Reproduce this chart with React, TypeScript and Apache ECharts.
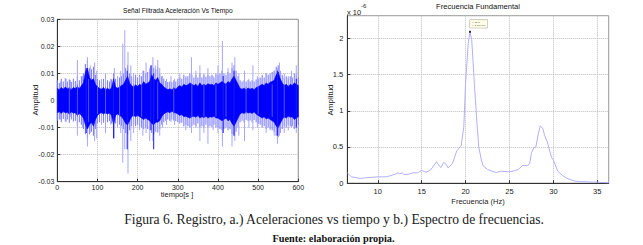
import React, { useEffect, useRef } from 'react';
import * as echarts from 'echarts';

// ---------- Left panel: filtered acceleration (values in 1e-3 units) ----------
const TIME_STEP_S = 5; // samples every 5 s, 0..600
const coreHi = [
  4.5, 4.0, 4.8, 4.2, 5.0, 4.3, 4.6, 4.0, 4.8, 4.4,
  5.2, 4.3, 5.5, 6.5, 10.5, 12.0, 8.5, 7.5, 8.0, 6.0,
  5.0, 4.5, 4.2, 4.8, 4.0, 4.5, 4.0, 4.6, 8.0, 5.0,
  4.5, 5.0, 5.5, 6.0, 7.5, 9.0, 6.5, 5.5, 5.0, 5.8,
  5.2, 6.0, 5.5, 7.0, 6.0, 6.5, 7.0, 9.5, 8.0, 7.5,
  8.5, 6.5, 6.0, 5.0, 4.5, 4.0, 4.3, 4.0, 4.6, 4.2,
  5.0, 5.5, 5.0, 6.0, 5.5, 5.8, 6.5, 6.0, 5.5, 6.0,
  5.2, 6.5, 5.5, 6.0, 5.5, 6.2, 5.8, 6.0, 5.5, 6.5,
  6.0, 6.5, 7.0, 6.5, 6.0, 7.0, 6.5, 8.0, 9.0, 7.5,
  6.0, 4.5, 4.2, 4.5, 4.0, 4.6, 4.2, 4.5, 4.0, 4.8,
  5.0, 5.5, 6.0, 5.5, 6.5, 6.0, 6.8, 7.0, 7.5, 9.5,
  10.5, 8.0, 6.5, 5.5, 6.0, 5.2, 6.0, 5.5, 6.5, 6.0,
  5.5,
];
const coreLo = [
  -4.5, -4.2, -4.8, -4.0, -4.6, -4.3, -5.0, -4.2, -4.7, -4.5,
  -5.5, -4.8, -5.5, -6.5, -9.0, -10.5, -9.0, -8.0, -9.5, -7.0,
  -5.5, -4.8, -4.5, -5.0, -4.5, -5.0, -4.6, -5.5, -9.0, -5.5,
  -5.0, -5.5, -6.0, -7.0, -8.5, -9.0, -7.5, -6.0, -5.5, -6.0,
  -5.5, -6.0, -6.5, -7.0, -6.5, -7.0, -7.5, -8.5, -9.0, -8.0,
  -8.0, -7.5, -6.0, -5.0, -4.5, -4.2, -4.5, -4.0, -4.4, -4.6,
  -5.0, -5.5, -5.2, -6.0, -5.8, -6.2, -6.5, -6.0, -5.8, -6.2,
  -5.5, -6.5, -6.0, -6.3, -5.8, -6.5, -6.0, -6.2, -5.8, -6.5,
  -6.5, -7.0, -7.5, -7.0, -6.5, -7.5, -7.0, -8.5, -9.5, -8.0,
  -6.5, -5.0, -4.5, -4.8, -4.2, -4.6, -4.4, -4.8, -4.2, -5.0,
  -5.5, -6.0, -6.5, -6.0, -6.8, -6.5, -7.0, -7.5, -8.0, -9.5,
  -10.0, -8.5, -7.0, -6.0, -6.5, -5.8, -6.2, -6.0, -7.0, -6.5,
  -6.0,
];
const haloHi = [
  7.5, 6.5, 8.0, 7.0, 8.2, 7.0, 7.8, 6.8, 8.0, 7.2,
  9.0, 7.5, 9.0, 10.0, 13.5, 15.0, 12.0, 11.5, 12.5, 9.5,
  8.0, 7.5, 7.0, 8.0, 7.0, 7.5, 7.0, 7.8, 10.0, 8.0,
  7.5, 8.5, 9.0, 10.0, 12.0, 13.0, 10.0, 9.0, 8.0, 9.5,
  8.5, 9.5, 9.0, 11.0, 10.0, 10.5, 11.0, 13.0, 12.0, 11.5,
  12.5, 10.0, 9.0, 8.0, 7.2, 6.8, 7.0, 6.8, 7.5, 7.0,
  8.0, 8.5, 8.0, 9.5, 8.5, 9.0, 10.0, 9.5, 8.5, 9.5,
  8.5, 10.0, 8.5, 9.5, 8.8, 9.5, 9.0, 9.5, 8.5, 10.0,
  9.5, 10.0, 11.0, 10.0, 9.5, 10.5, 10.0, 12.0, 13.0, 11.0,
  9.0, 7.5, 7.0, 7.5, 7.0, 7.6, 7.0, 7.5, 7.0, 7.8,
  8.0, 8.5, 9.5, 8.5, 10.0, 9.5, 10.0, 10.5, 11.0, 12.5,
  13.0, 11.0, 9.5, 8.5, 9.0, 8.2, 9.0, 8.5, 10.0, 9.5,
  8.5,
];
const haloLo = [
  -7.5, -7.0, -8.0, -6.8, -7.8, -7.0, -8.2, -7.0, -7.8, -7.5,
  -9.0, -8.0, -9.0, -10.5, -12.5, -14.0, -12.5, -11.5, -13.0, -10.5,
  -8.5, -8.0, -7.5, -8.2, -7.5, -8.0, -7.6, -8.5, -12.0, -8.5,
  -8.0, -9.0, -9.5, -10.5, -12.0, -12.5, -11.0, -9.5, -9.0, -9.5,
  -9.0, -9.5, -10.0, -10.5, -10.0, -10.5, -11.0, -12.0, -12.5, -11.5,
  -11.5, -10.5, -9.0, -8.0, -7.5, -7.0, -7.5, -7.0, -7.4, -7.6,
  -8.0, -8.5, -8.2, -9.5, -9.0, -9.5, -10.0, -9.5, -9.0, -9.5,
  -8.5, -10.0, -9.5, -10.0, -9.0, -10.0, -9.5, -9.8, -9.0, -10.0,
  -10.0, -10.5, -11.0, -10.5, -10.0, -11.0, -10.5, -12.5, -13.0, -11.5,
  -10.0, -8.0, -7.5, -8.0, -7.2, -7.6, -7.4, -8.0, -7.2, -8.0,
  -8.5, -9.0, -10.0, -9.5, -10.5, -10.0, -10.5, -11.0, -11.5, -13.0,
  -13.5, -12.0, -10.5, -9.5, -10.0, -9.0, -9.5, -9.5, -10.5, -10.0,
  -9.0,
];
// [time s, top, bottom] in 1e-3 units
const lightSpikes = [
  [8, 7, -7], [22, 8, -8], [33, 7.5, -6], [50, 15, -13], [63, 9, -10], [75, 16, -17],
  [82, 13, -12], [93, 14, -15], [98, 11, -14], [110, 8, -9], [120, 10, -12], [133, 8, -9],
  [142, 12, -14], [150, 9, -10], [158, 11, -12], [163, 21, -23], [168, 26, -18], [176, 18, -27],
  [183, 13, -15], [190, 10, -12], [205, 9, -11], [213, 11, -13], [221, 14, -12], [230, 12, -15],
  [238, 16, -15], [244, 13, -11], [250, 15, -12], [255, 12, -13], [262, 9, -10], [272, 8, -9],
  [283, 9, -8], [292, 8, -9], [305, 10, -8], [320, 9, -11], [334, 16, -12], [345, 11, -10],
  [355, 13, -15], [365, 10, -12], [375, 12, -16], [388, 9, -11], [400, 13, -12], [411, 22, -17],
  [425, 12, -10], [435, 14, -17], [442, 16, -15], [452, 10, -13], [466, 11, -15], [477, 8, -10],
  [487, 13, -11], [498, 9, -10], [510, 8, -9], [520, 10, -12], [530, 9, -11], [540, 11, -13],
  [548, 12, -16], [553, 14, -13], [565, 10, -12], [575, 9, -11], [583, 11, -10], [595, 13, -12],
];
// lighter streaks visible across the dense core
const coreStreaks = [
  [30, 5, -5], [50, 6, -6], [78, 8, -8], [100, 5, -5], [120, 5, -5], [155, 6, -6], [190, 6, -6],
  [210, 6, -6], [250, 7, -7], [290, 5, -5], [335, 6, -6], [365, 6, -6], [395, 6, -6],
  [420, 6, -6], [470, 5, -5], [500, 5, -5], [535, 6, -6], [565, 6, -6],
];
const darkSpikes = [
  [72, 12, -12], [140, 8, -14], [174, 11, -18], [233, 13, -11], [240, 10, -18],
  [413, 9, -12], [440, 11, -13], [548, 11, -13], [595, 8, -10],
];
const timeTicks = [0, 100, 200, 300, 400, 500, 600];

// ---------- Right panel: spectrum (values in 1e-6 units) ----------
const freqHz = [
  6.53, 7.0, 7.5, 8.0, 8.5, 9.0, 9.5, 10, 10.5, 11,
  11.5, 12, 12.3, 12.5, 12.8, 13, 13.5, 14, 14.5, 15,
  15.3, 15.5, 16, 16.5, 16.7, 17, 17.2, 17.5, 17.8, 18,
  18.5, 19, 19.5, 19.8, 20.0, 20.3, 20.5, 20.7, 21.0, 21.3,
  21.5, 21.8, 22.0, 22.5, 23, 23.5, 24, 24.5, 25, 25.5,
  26, 26.5, 27, 27.3, 27.5, 27.8, 28.0, 28.3, 28.5, 28.8,
  29.0, 29.3, 29.5, 29.8, 30.0, 30.3, 30.5, 31, 31.5, 32,
  32.5, 33, 34, 35, 36.3,
];
const spectrum = [
  0.143, 0.088, 0.078, 0.065, 0.074, 0.078, 0.083, 0.088, 0.088, 0.088,
  0.106, 0.124, 0.143, 0.13, 0.143, 0.12, 0.124, 0.143, 0.143, 0.175,
  0.16, 0.152, 0.18, 0.263, 0.295, 0.24, 0.216, 0.286, 0.26, 0.212,
  0.27, 0.447, 0.52, 0.78, 1.38, 1.93, 2.09, 1.98, 1.38, 0.82,
  0.50, 0.32, 0.24, 0.19, 0.166, 0.147, 0.166, 0.161, 0.157, 0.17,
  0.19, 0.244, 0.24, 0.27, 0.42, 0.49, 0.50, 0.69, 0.79, 0.756,
  0.66, 0.57, 0.48, 0.355, 0.32, 0.226, 0.166, 0.11, 0.07, 0.046,
  0.028, 0.023, 0.018, 0.014, 0.005,
];
const peakPoint = [20.5, 2.09];
const peakTip = 'X: 20.5\nY: 2.08e-006';

const SANS = "'Liberation Sans', Arial, sans-serif";
const SERIF = "'Liberation Serif', 'DejaVu Serif', serif";

export default function App() {
  const ref = useRef<HTMLDivElement>(null);
  useEffect(() => {
    document.body.style.margin = '0';
    const chart = echarts.init(ref.current!, null, { renderer: 'svg' });

    const bandItem = (hi: number[], lo: number[], fill: string) => (params: any, api: any) => {
      const pts: number[][] = [];
      for (let i = 0; i < hi.length; i++) pts.push(api.coord([i * TIME_STEP_S, hi[i]]));
      for (let i = lo.length - 1; i >= 0; i--) pts.push(api.coord([i * TIME_STEP_S, lo[i]]));
      return { type: 'polygon', shape: { points: pts }, style: { fill, stroke: fill, lineWidth: 0.6 } };
    };
    const spikeItem = (color: string, w: number) => (params: any, api: any) => {
      const a = api.coord([api.value(0), api.value(1)]);
      const b = api.coord([api.value(0), api.value(2)]);
      return { type: 'line', shape: { x1: a[0], y1: a[1], x2: b[0], y2: b[1] }, style: { stroke: color, lineWidth: w } };
    };
    // halo drawn as one thin vertical stroke per sample
    const haloData = haloHi.map((h, i) => [i * TIME_STEP_S, h, haloLo[i]]);

    const axisCommon = {
      axisLine: { show: true, onZero: false, lineStyle: { color: '#333', width: 1 } },
      axisTick: { show: true, inside: true, length: 3, lineStyle: { color: '#333' } },
      splitLine: { show: true, lineStyle: { type: 'dotted', color: '#bdbdbd', width: 1 } },
    };

    chart.setOption({
      animation: false,
      grid: [
        { left: 57.3, top: 19.3, width: 241, height: 162.4, show: true, borderColor: '#777', borderWidth: 1, backgroundColor: '#fff' },
        { left: 347.3, top: 15.7, width: 261.4, height: 167.5, show: true, borderColor: '#888', borderWidth: 1, backgroundColor: '#fff' },
      ],
      xAxis: [
        {
          gridIndex: 0, type: 'value', min: timeTicks[0], max: timeTicks[timeTicks.length - 1], interval: 100,
          ...axisCommon,
          axisLabel: { fontSize: 7, color: '#222', fontFamily: SANS, margin: 2 },
        },
        {
          gridIndex: 1, type: 'value', min: freqHz[0], max: freqHz[freqHz.length - 1], minInterval: 5, maxInterval: 5,
          ...axisCommon,
          axisLabel: { fontSize: 7.5, color: '#222', fontFamily: SANS, margin: 4, showMinLabel: false, showMaxLabel: false },
        },
      ],
      yAxis: [
        {
          gridIndex: 0, type: 'value', min: -30, max: 30, interval: 10,
          ...axisCommon,
          axisLabel: {
            fontSize: 7, color: '#222', fontFamily: SANS, margin: 3,
            formatter: (v: number) => (v === 0 ? '0' : (v / 1000).toFixed(2)),
          },
        },
        {
          gridIndex: 1, type: 'value', min: 0, max: 2.312, interval: 0.5,
          ...axisCommon,
          axisLabel: { fontSize: 7.5, color: '#222', fontFamily: SANS, margin: 4, showMaxLabel: false },
        },
      ],
      series: [
        {
          type: 'custom', xAxisIndex: 0, yAxisIndex: 0, data: haloData,
          encode: { x: 0, y: [1, 2] }, renderItem: spikeItem('#8080ff', 1.1), z: 2,
        },
        {
          type: 'custom', xAxisIndex: 0, yAxisIndex: 0, data: lightSpikes,
          encode: { x: 0, y: [1, 2] }, renderItem: spikeItem('#a6a6ff', 1), z: 3,
        },
        {
          type: 'custom', xAxisIndex: 0, yAxisIndex: 0, data: [[0, 0]],
          renderItem: bandItem(coreHi, coreLo, '#0000ff'), clip: true, z: 4,
        },
        {
          type: 'custom', xAxisIndex: 0, yAxisIndex: 0, data: coreStreaks,
          encode: { x: 0, y: [1, 2] }, renderItem: spikeItem('#6a6aff', 0.8), z: 5,
        },
        {
          type: 'custom', xAxisIndex: 0, yAxisIndex: 0, data: darkSpikes,
          encode: { x: 0, y: [1, 2] }, renderItem: spikeItem('#1a1aff', 1), z: 6,
        },
        {
          type: 'line', xAxisIndex: 1, yAxisIndex: 1,
          data: freqHz.map((f, i) => [f, spectrum[i]]),
          showSymbol: false, symbol: 'none',
          lineStyle: { color: '#b0b0ff', width: 1 }, z: 3,
        },
        {
          type: 'scatter', xAxisIndex: 1, yAxisIndex: 1, data: [peakPoint],
          symbol: 'rect', symbolSize: 2, itemStyle: { color: '#000' }, z: 5,
          label: {
            show: true, position: [1, -11], formatter: peakTip,
            fontSize: 2.4, lineHeight: 3, color: '#000', fontFamily: SANS,
            backgroundColor: '#ffffe1', borderColor: '#999', borderWidth: 0.5, padding: [1, 2],
          },
        },
      ],
      graphic: [
        { type: 'text', x: 177.8, y: 10, style: { text: 'Señal Filtrada Aceleración Vs Tiempo', fontSize: 6.6, fontFamily: SANS, fill: '#111', align: 'center', verticalAlign: 'middle' } },
        { type: 'text', x: 478, y: 6, style: { text: 'Frecuencia Fundamental', fontSize: 7.6, fontFamily: SANS, fill: '#111', align: 'center', verticalAlign: 'middle' } },
        { type: 'text', x: 347, y: 12, style: { text: 'x 10', fontSize: 7.5, fontFamily: SANS, fill: '#222', align: 'left', verticalAlign: 'middle' } },
        { type: 'text', x: 361, y: 5.5, style: { text: '-6', fontSize: 6, fontFamily: SANS, fill: '#222', align: 'left', verticalAlign: 'middle' } },
        { type: 'text', x: 35, y: 100, rotation: Math.PI / 2, style: { text: 'Amplitud', fontSize: 8, fontFamily: SANS, fill: '#222', align: 'center', verticalAlign: 'middle' } },
        { type: 'text', x: 330.5, y: 100, rotation: Math.PI / 2, style: { text: 'Amplitud', fontSize: 8, fontFamily: SANS, fill: '#222', align: 'center', verticalAlign: 'middle' } },
        { type: 'text', x: 177, y: 194.5, style: { text: 'tiempo[s ]', fontSize: 7.5, fontFamily: SANS, fill: '#222', align: 'center', verticalAlign: 'middle' } },
        { type: 'text', x: 478, y: 201.5, style: { text: 'Frecuencia (Hz)', fontSize: 7.5, fontFamily: SANS, fill: '#222', align: 'center', verticalAlign: 'middle' } },
        { type: 'text', x: 334, y: 219.5, style: { text: 'Figura 6. Registro, a.) Aceleraciones vs tiempo y b.) Espectro de frecuencias.', fontSize: 13.6, fontFamily: SERIF, fill: '#222', align: 'center', verticalAlign: 'middle' } },
        { type: 'text', x: 333.5, y: 238.5, style: { text: 'Fuente: elaboración propia.', fontSize: 10.3, fontWeight: 'bold', fontFamily: SERIF, fill: '#111', align: 'center', verticalAlign: 'middle' } },
      ],
    });
    return () => chart.dispose();
  }, []);
  return <div ref={ref} style={{ width: 643, height: 245 }} />;
}
